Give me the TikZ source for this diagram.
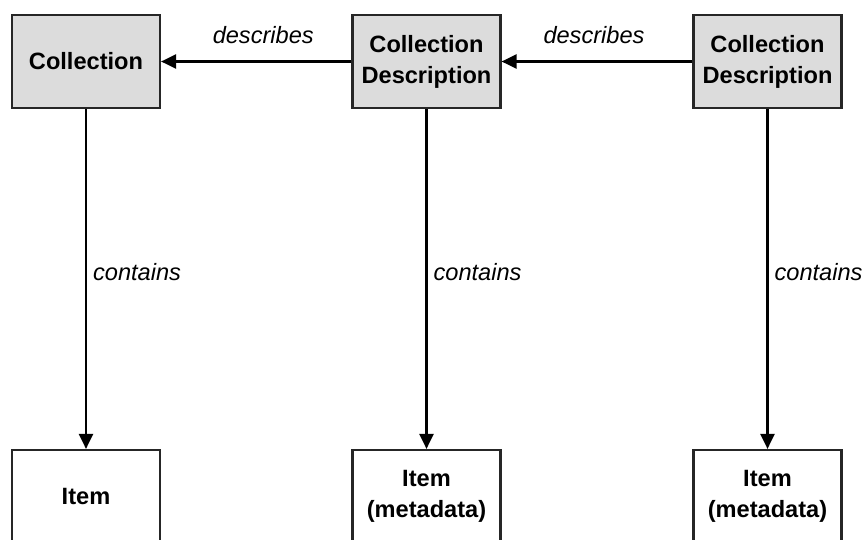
\documentclass[tikz,border=0pt]{standalone}
\usepackage{fontspec}
\setmainfont{Liberation Sans}
\usetikzlibrary{arrows.meta}
\definecolor{boxgray}{HTML}{DCDCDC}
\tikzset{
  box/.style={draw=black!85, line width=2.2pt, minimum width=148pt, minimum height=93pt,
    align=center, inner sep=0pt, font=\bfseries\fontsize{23.6}{31}\selectfont},
  topbox/.style={box, fill=boxgray},
  conn/.style={line width=2.2pt, -{Triangle[length=15pt,width=14pt]}},
  lbl/.style={font=\itshape\fontsize{23.6}{28}\selectfont, inner sep=0pt}
}
\begin{document}
\begin{tikzpicture}[x=1pt,y=-1pt]
\useasboundingbox (0,0) rectangle (865,539);
\node[topbox] (c1) at (86,61.5) {Collection};
\node[topbox] (c2) at (426.5,61.5) {Collection\\Description};
\node[topbox] (c3) at (767.5,61.5) {Collection\\Description};
\node[box] (i1) at (86,496.5) {Item};
\node[box] (i2) at (426.5,496.5) {Item\\(metadata)};
\node[box] (i3) at (767.5,496.5) {Item\\(metadata)};
\draw[conn] (c2.west) -- node[lbl, above=17pt, xshift=7pt] {describes} (c1.east);
\draw[conn] (c3.west) -- node[lbl, above=17pt, xshift=-3pt] {describes} (c2.east);
\draw[conn] (c1.south) -- node[lbl, right=6pt, pos=0.48] {contains} (i1.north);
\draw[conn] (c2.south) -- node[lbl, right=6pt, pos=0.48] {contains} (i2.north);
\draw[conn] (c3.south) -- node[lbl, right=6pt, pos=0.48] {contains} (i3.north);
\end{tikzpicture}
\end{document}
